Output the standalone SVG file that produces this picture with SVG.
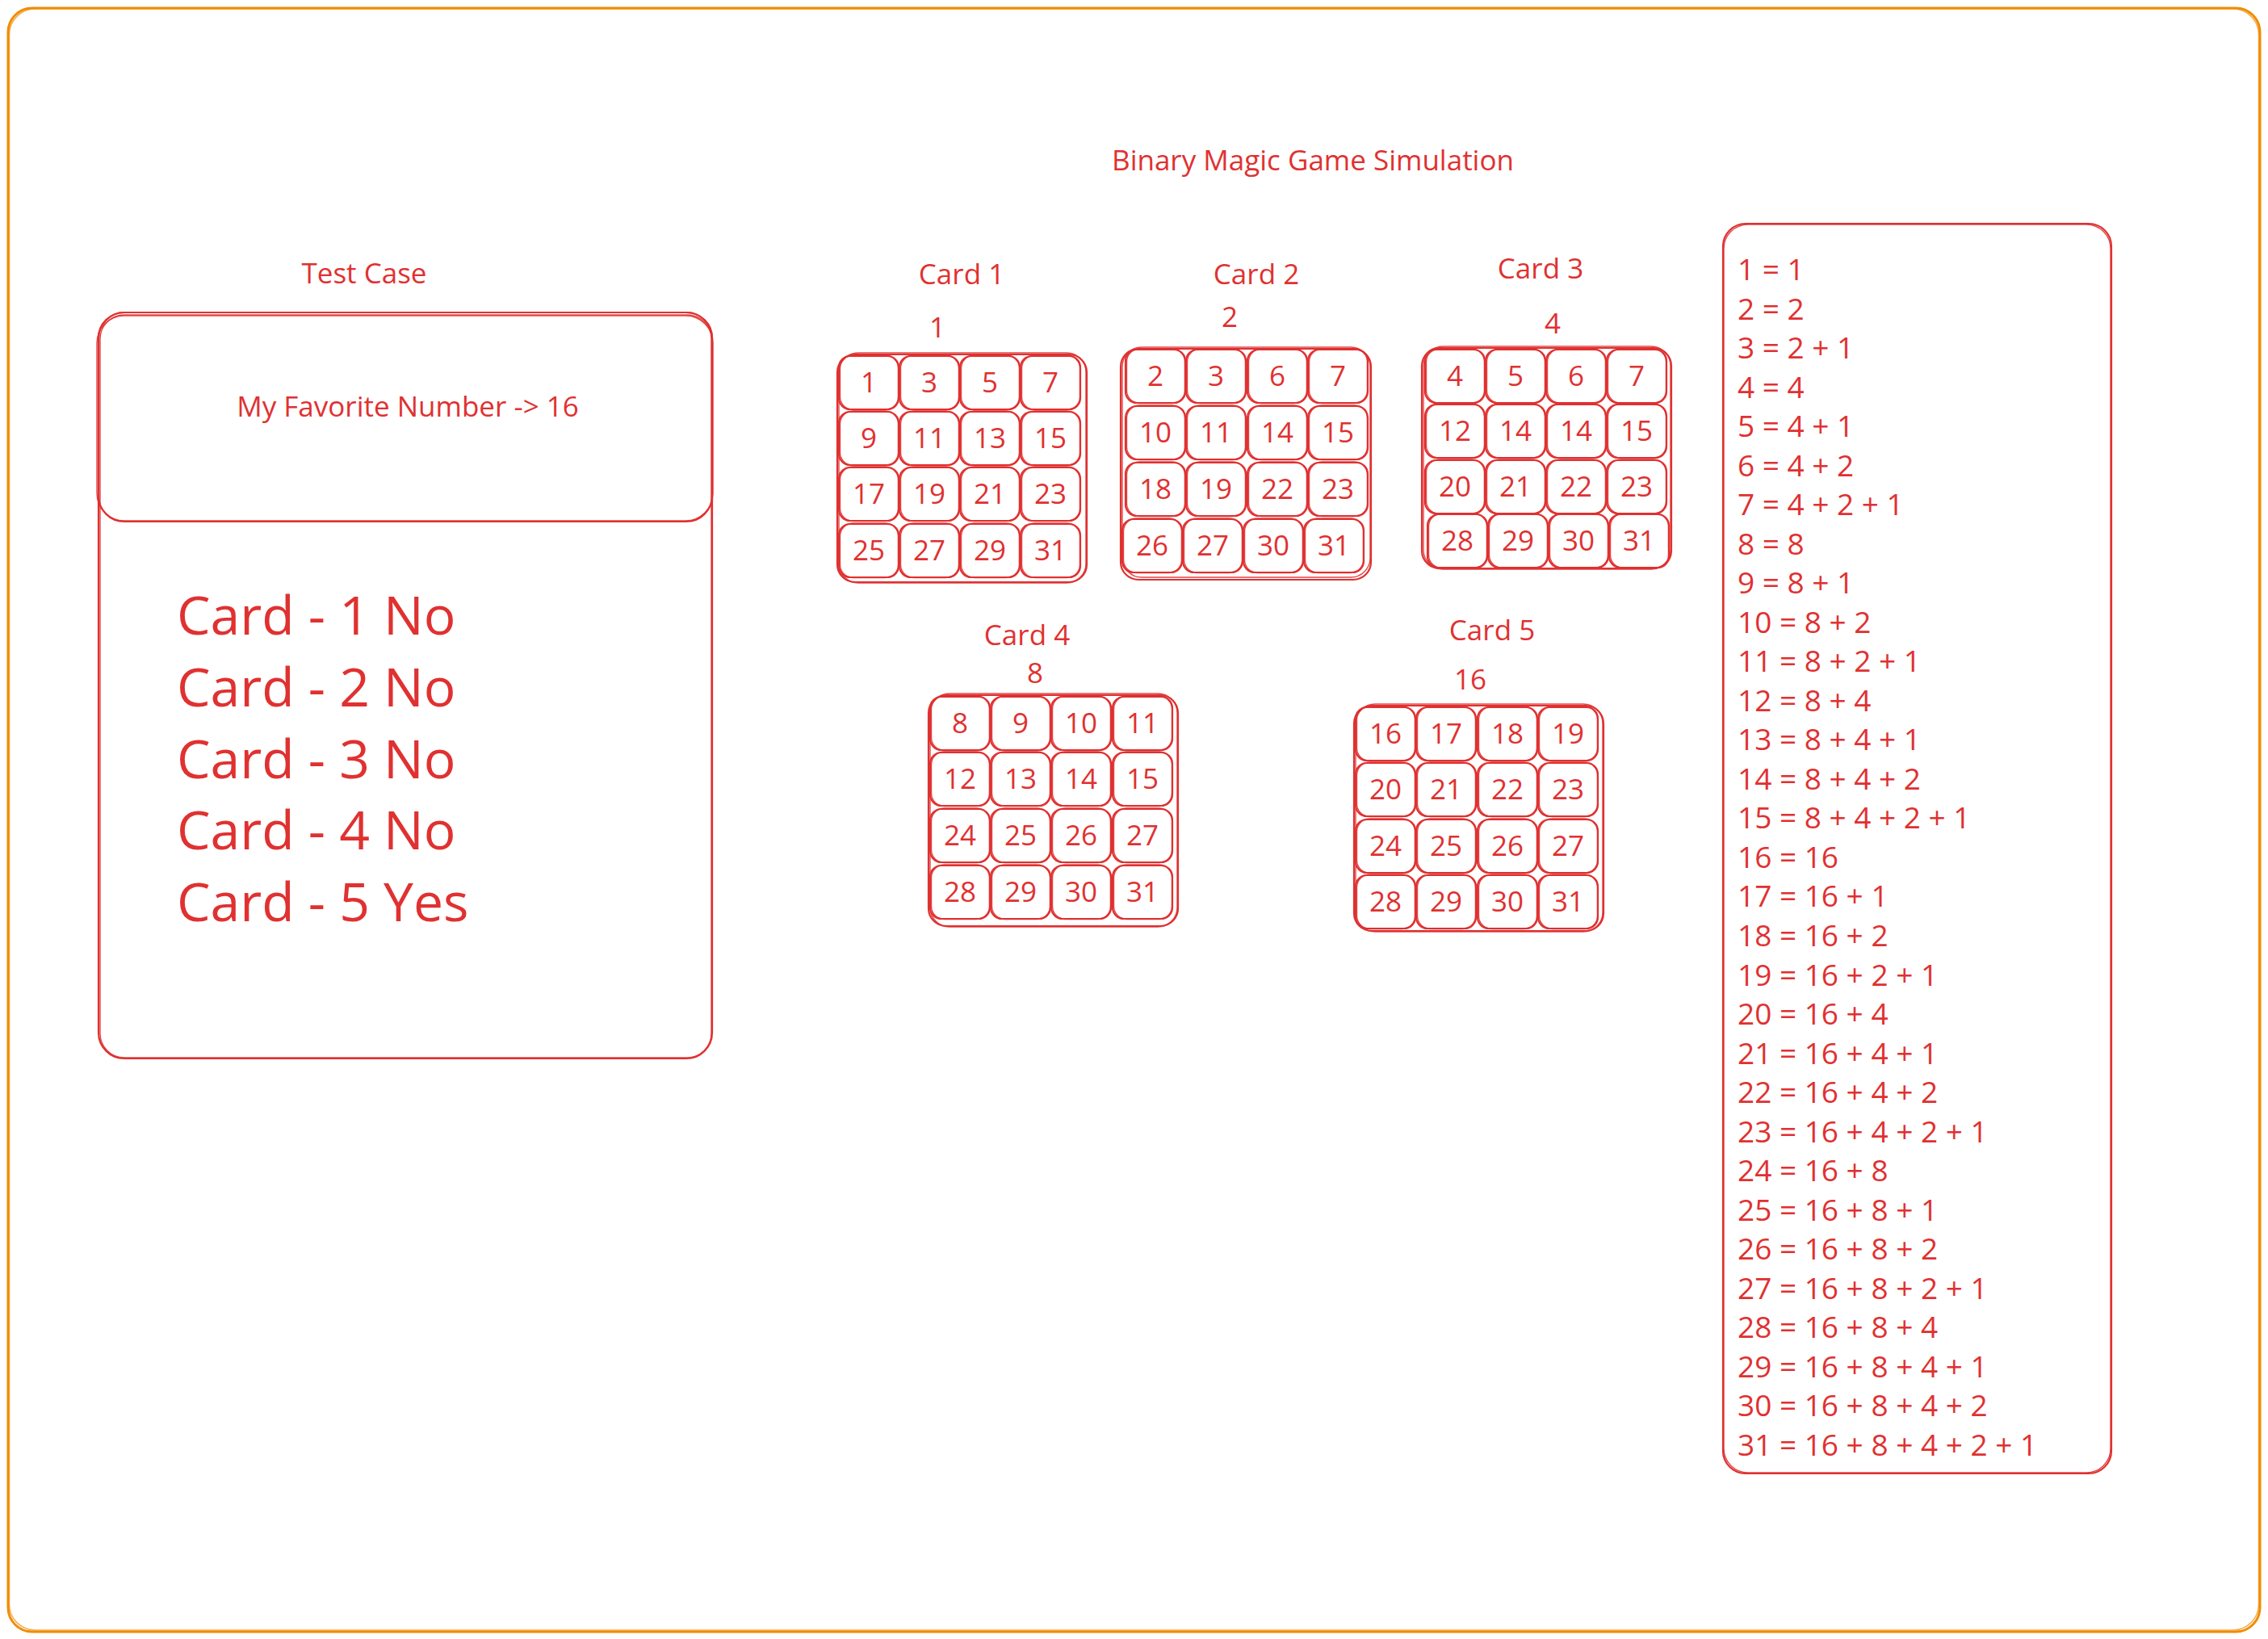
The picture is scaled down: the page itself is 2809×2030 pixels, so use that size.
<svg xmlns="http://www.w3.org/2000/svg" xmlns:xlink="http://www.w3.org/1999/xlink" width="2809" height="2030" viewBox="0 0 2809 2030">
<style>
  text { font-family: "Open Sans", "Noto Sans", "Liberation Sans", sans-serif; fill: #e03131; }
  .lbl { font-size: 35px; text-anchor: middle; }
  .num { font-size: 35px; text-anchor: middle; }
  .big { font-size: 66px; }
  .eq { font-size: 37px; }
  .sk { fill: none; stroke: #e03131; stroke-width: 2.2; stroke-linejoin: round; }
  .sk2 { fill: none; stroke: #e03131; stroke-width: 1.4; stroke-linejoin: round; opacity: 0.9; }
  .frame { fill: none; stroke: #f08c00; stroke-width: 3; }
  .frame2 { fill: none; stroke: #f08c00; stroke-width: 1.5; opacity: 0.7; }
</style>
<defs>
  <g id="cell">
    <rect x="0" y="0" width="74" height="66" rx="14" class="sk"/>
    <rect x="1.5" y="-1" width="72" height="67.5" rx="16" class="sk2"/>
  </g>
</defs>
<rect width="2809" height="2030" fill="#ffffff"/>

<g id="frame">
  <rect x="10" y="10" width="2789" height="2011" rx="30" class="frame"/>
  <rect x="11.5" y="11" width="2786" height="2008" rx="32" class="frame2"/>
</g>

<g id="title">
  <text class="lbl" x="1626" y="211">Binary Magic Game Simulation</text>
</g>

<g id="test-case">
  <text class="lbl" x="451" y="351">Test Case</text>
  <rect x="122" y="387" width="760" height="924" rx="32" class="sk"/>
  <rect x="124" y="390" width="757" height="920" rx="30" class="sk2"/>
  <g id="favorite">
    <rect x="122" y="387" width="760" height="259" rx="32" class="sk"/>
    <rect x="120" y="391" width="763" height="254" rx="34" class="sk2"/>
    <text class="lbl" x="505" y="516">My Favorite Number -&gt; 16</text>
  </g>
  <text class="big" x="219" y="786">Card - 1 No</text>
  <text class="big" x="219" y="875">Card - 2 No</text>
  <text class="big" x="219" y="964">Card - 3 No</text>
  <text class="big" x="219" y="1052">Card - 4 No</text>
  <text class="big" x="219" y="1141">Card - 5 Yes</text>
</g>

<g id="card1">
  <text class="lbl" x="1191" y="352">Card 1</text>
  <text class="lbl" x="1161" y="418">1</text>
  <rect x="1037" y="439" width="309" height="282" rx="22" class="sk"/>
  <rect x="1039" y="437" width="306" height="285" rx="24" class="sk2"/>
  <use xlink:href="#cell" x="1039" y="441"/><use xlink:href="#cell" x="1114" y="441"/><use xlink:href="#cell" x="1189" y="441"/><use xlink:href="#cell" x="1264" y="441"/>
  <use xlink:href="#cell" x="1039" y="510"/><use xlink:href="#cell" x="1114" y="510"/><use xlink:href="#cell" x="1189" y="510"/><use xlink:href="#cell" x="1264" y="510"/>
  <use xlink:href="#cell" x="1039" y="579"/><use xlink:href="#cell" x="1114" y="579"/><use xlink:href="#cell" x="1189" y="579"/><use xlink:href="#cell" x="1264" y="579"/>
  <use xlink:href="#cell" x="1039" y="649"/><use xlink:href="#cell" x="1114" y="649"/><use xlink:href="#cell" x="1189" y="649"/><use xlink:href="#cell" x="1264" y="649"/>
  <text class="num" x="1076" y="486">1</text><text class="num" x="1151" y="486">3</text><text class="num" x="1226" y="486">5</text><text class="num" x="1301" y="486">7</text>
  <text class="num" x="1076" y="555">9</text><text class="num" x="1151" y="555">11</text><text class="num" x="1226" y="555">13</text><text class="num" x="1301" y="555">15</text>
  <text class="num" x="1076" y="624">17</text><text class="num" x="1151" y="624">19</text><text class="num" x="1226" y="624">21</text><text class="num" x="1301" y="624">23</text>
  <text class="num" x="1076" y="694">25</text><text class="num" x="1151" y="694">27</text><text class="num" x="1226" y="694">29</text><text class="num" x="1301" y="694">31</text>
</g>

<g id="card2">
  <text class="lbl" x="1556" y="352">Card 2</text>
  <text class="lbl" x="1523" y="405">2</text>
  <rect x="1388" y="432" width="310" height="286" rx="22" class="sk"/>
  <rect x="1390" y="430" width="307" height="285" rx="24" class="sk2"/>
  <use xlink:href="#cell" x="1394" y="433"/><use xlink:href="#cell" x="1469" y="433"/><use xlink:href="#cell" x="1545" y="433"/><use xlink:href="#cell" x="1620" y="433"/>
  <use xlink:href="#cell" x="1394" y="503"/><use xlink:href="#cell" x="1469" y="503"/><use xlink:href="#cell" x="1545" y="503"/><use xlink:href="#cell" x="1620" y="503"/>
  <use xlink:href="#cell" x="1394" y="573"/><use xlink:href="#cell" x="1469" y="573"/><use xlink:href="#cell" x="1545" y="573"/><use xlink:href="#cell" x="1620" y="573"/>
  <use xlink:href="#cell" x="1390" y="643"/><use xlink:href="#cell" x="1465" y="643"/><use xlink:href="#cell" x="1540" y="643"/><use xlink:href="#cell" x="1615" y="643"/>
  <text class="num" x="1431" y="478">2</text><text class="num" x="1506" y="478">3</text><text class="num" x="1582" y="478">6</text><text class="num" x="1657" y="478">7</text>
  <text class="num" x="1431" y="548">10</text><text class="num" x="1506" y="548">11</text><text class="num" x="1582" y="548">14</text><text class="num" x="1657" y="548">15</text>
  <text class="num" x="1431" y="618">18</text><text class="num" x="1506" y="618">19</text><text class="num" x="1582" y="618">22</text><text class="num" x="1657" y="618">23</text>
  <text class="num" x="1427" y="688">26</text><text class="num" x="1502" y="688">27</text><text class="num" x="1577" y="688">30</text><text class="num" x="1652" y="688">31</text>
</g>

<g id="card3">
  <text class="lbl" x="1908" y="345">Card 3</text>
  <text class="lbl" x="1923" y="413">4</text>
  <rect x="1761" y="431" width="309" height="273" rx="22" class="sk"/>
  <rect x="1763" y="429" width="306" height="276" rx="24" class="sk2"/>
  <use xlink:href="#cell" x="1765" y="433"/><use xlink:href="#cell" x="1840" y="433"/><use xlink:href="#cell" x="1915" y="433"/><use xlink:href="#cell" x="1990" y="433"/>
  <use xlink:href="#cell" x="1765" y="501"/><use xlink:href="#cell" x="1840" y="501"/><use xlink:href="#cell" x="1915" y="501"/><use xlink:href="#cell" x="1990" y="501"/>
  <use xlink:href="#cell" x="1765" y="570"/><use xlink:href="#cell" x="1840" y="570"/><use xlink:href="#cell" x="1915" y="570"/><use xlink:href="#cell" x="1990" y="570"/>
  <use xlink:href="#cell" x="1768" y="637"/><use xlink:href="#cell" x="1843" y="637"/><use xlink:href="#cell" x="1918" y="637"/><use xlink:href="#cell" x="1993" y="637"/>
  <text class="num" x="1802" y="478">4</text><text class="num" x="1877" y="478">5</text><text class="num" x="1952" y="478">6</text><text class="num" x="2027" y="478">7</text>
  <text class="num" x="1802" y="546">12</text><text class="num" x="1877" y="546">14</text><text class="num" x="1952" y="546">14</text><text class="num" x="2027" y="546">15</text>
  <text class="num" x="1802" y="615">20</text><text class="num" x="1877" y="615">21</text><text class="num" x="1952" y="615">22</text><text class="num" x="2027" y="615">23</text>
  <text class="num" x="1805" y="682">28</text><text class="num" x="1880" y="682">29</text><text class="num" x="1955" y="682">30</text><text class="num" x="2030" y="682">31</text>
</g>

<g id="card4">
  <text class="lbl" x="1272" y="799">Card 4</text>
  <text class="lbl" x="1282" y="846">8</text>
  <rect x="1150" y="861" width="309" height="286" rx="22" class="sk"/>
  <rect x="1152" y="859" width="306" height="289" rx="24" class="sk2"/>
  <use xlink:href="#cell" x="1152" y="863"/><use xlink:href="#cell" x="1227" y="863"/><use xlink:href="#cell" x="1302" y="863"/><use xlink:href="#cell" x="1378" y="863"/>
  <use xlink:href="#cell" x="1152" y="932"/><use xlink:href="#cell" x="1227" y="932"/><use xlink:href="#cell" x="1302" y="932"/><use xlink:href="#cell" x="1378" y="932"/>
  <use xlink:href="#cell" x="1152" y="1002"/><use xlink:href="#cell" x="1227" y="1002"/><use xlink:href="#cell" x="1302" y="1002"/><use xlink:href="#cell" x="1378" y="1002"/>
  <use xlink:href="#cell" x="1152" y="1072"/><use xlink:href="#cell" x="1227" y="1072"/><use xlink:href="#cell" x="1302" y="1072"/><use xlink:href="#cell" x="1378" y="1072"/>
  <text class="num" x="1189" y="908">8</text><text class="num" x="1264" y="908">9</text><text class="num" x="1339" y="908">10</text><text class="num" x="1415" y="908">11</text>
  <text class="num" x="1189" y="977">12</text><text class="num" x="1264" y="977">13</text><text class="num" x="1339" y="977">14</text><text class="num" x="1415" y="977">15</text>
  <text class="num" x="1189" y="1047">24</text><text class="num" x="1264" y="1047">25</text><text class="num" x="1339" y="1047">26</text><text class="num" x="1415" y="1047">27</text>
  <text class="num" x="1189" y="1117">28</text><text class="num" x="1264" y="1117">29</text><text class="num" x="1339" y="1117">30</text><text class="num" x="1415" y="1117">31</text>
</g>

<g id="card5">
  <text class="lbl" x="1848" y="793">Card 5</text>
  <text class="lbl" x="1821" y="854">16</text>
  <rect x="1677" y="874" width="309" height="279" rx="22" class="sk"/>
  <rect x="1679" y="872" width="306" height="282" rx="24" class="sk2"/>
  <use xlink:href="#cell" x="1679" y="876"/><use xlink:href="#cell" x="1754" y="876"/><use xlink:href="#cell" x="1830" y="876"/><use xlink:href="#cell" x="1905" y="876"/>
  <use xlink:href="#cell" x="1679" y="945"/><use xlink:href="#cell" x="1754" y="945"/><use xlink:href="#cell" x="1830" y="945"/><use xlink:href="#cell" x="1905" y="945"/>
  <use xlink:href="#cell" x="1679" y="1015"/><use xlink:href="#cell" x="1754" y="1015"/><use xlink:href="#cell" x="1830" y="1015"/><use xlink:href="#cell" x="1905" y="1015"/>
  <use xlink:href="#cell" x="1679" y="1084"/><use xlink:href="#cell" x="1754" y="1084"/><use xlink:href="#cell" x="1830" y="1084"/><use xlink:href="#cell" x="1905" y="1084"/>
  <text class="num" x="1716" y="921">16</text><text class="num" x="1791" y="921">17</text><text class="num" x="1867" y="921">18</text><text class="num" x="1942" y="921">19</text>
  <text class="num" x="1716" y="990">20</text><text class="num" x="1791" y="990">21</text><text class="num" x="1867" y="990">22</text><text class="num" x="1942" y="990">23</text>
  <text class="num" x="1716" y="1060">24</text><text class="num" x="1791" y="1060">25</text><text class="num" x="1867" y="1060">26</text><text class="num" x="1942" y="1060">27</text>
  <text class="num" x="1716" y="1129">28</text><text class="num" x="1791" y="1129">29</text><text class="num" x="1867" y="1129">30</text><text class="num" x="1942" y="1129">31</text>
</g>

<g id="decomposition">
  <rect x="2134" y="277" width="481" height="1548" rx="28" class="sk"/>
  <rect x="2135" y="278" width="479" height="1546" rx="30" class="sk2"/>
  <text class="eq" x="2152" y="347">
    <tspan x="2152" dy="0">1 = 1</tspan>
    <tspan x="2152" dy="48.53">2 = 2</tspan>
    <tspan x="2152" dy="48.53">3 = 2 + 1</tspan>
    <tspan x="2152" dy="48.53">4 = 4</tspan>
    <tspan x="2152" dy="48.53">5 = 4 + 1</tspan>
    <tspan x="2152" dy="48.53">6 = 4 + 2</tspan>
    <tspan x="2152" dy="48.53">7 = 4 + 2 + 1</tspan>
    <tspan x="2152" dy="48.53">8 = 8</tspan>
    <tspan x="2152" dy="48.53">9 = 8 + 1</tspan>
    <tspan x="2152" dy="48.53">10 = 8 + 2</tspan>
    <tspan x="2152" dy="48.53">11 = 8 + 2 + 1</tspan>
    <tspan x="2152" dy="48.53">12 = 8 + 4</tspan>
    <tspan x="2152" dy="48.53">13 = 8 + 4 + 1</tspan>
    <tspan x="2152" dy="48.53">14 = 8 + 4 + 2</tspan>
    <tspan x="2152" dy="48.53">15 = 8 + 4 + 2 + 1</tspan>
    <tspan x="2152" dy="48.53">16 = 16</tspan>
    <tspan x="2152" dy="48.53">17 = 16 + 1</tspan>
    <tspan x="2152" dy="48.53">18 = 16 + 2</tspan>
    <tspan x="2152" dy="48.53">19 = 16 + 2 + 1</tspan>
    <tspan x="2152" dy="48.53">20 = 16 + 4</tspan>
    <tspan x="2152" dy="48.53">21 = 16 + 4 + 1</tspan>
    <tspan x="2152" dy="48.53">22 = 16 + 4 + 2</tspan>
    <tspan x="2152" dy="48.53">23 = 16 + 4 + 2 + 1</tspan>
    <tspan x="2152" dy="48.53">24 = 16 + 8</tspan>
    <tspan x="2152" dy="48.53">25 = 16 + 8 + 1</tspan>
    <tspan x="2152" dy="48.53">26 = 16 + 8 + 2</tspan>
    <tspan x="2152" dy="48.53">27 = 16 + 8 + 2 + 1</tspan>
    <tspan x="2152" dy="48.53">28 = 16 + 8 + 4</tspan>
    <tspan x="2152" dy="48.53">29 = 16 + 8 + 4 + 1</tspan>
    <tspan x="2152" dy="48.53">30 = 16 + 8 + 4 + 2</tspan>
    <tspan x="2152" dy="48.53">31 = 16 + 8 + 4 + 2 + 1</tspan>
  </text>
</g>

<g id="connectors"></g>
</svg>
